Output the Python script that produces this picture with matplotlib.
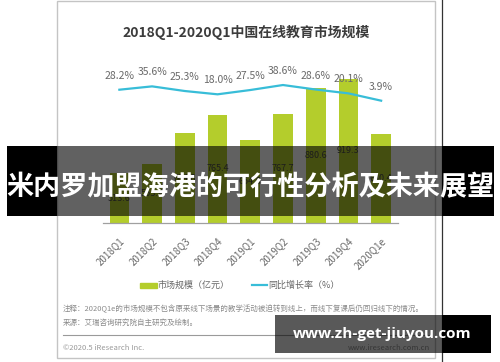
import matplotlib
matplotlib.use("Agg")
import matplotlib.pyplot as plt
from matplotlib.patches import Rectangle
from matplotlib.lines import Line2D

plt.rcParams['font.family'] = ['Noto Sans CJK SC', 'DejaVu Sans']

# ---- data ----
quarters = ["2018Q1", "2018Q2", "2018Q3", "2018Q4", "2019Q1",
            "2019Q2", "2019Q3", "2019Q4", "2020Q1e"]
market_size = [513.6, 553.9, 684.8, 765.4, 654.8, 767.7, 880.6, 919.3, 680.4]
growth_rate = [28.2, 35.6, 25.3, 18.0, 27.5, 38.6, 28.6, 20.1, 3.9]

title = "2018Q1-2020Q1中国在线教育市场规模"
legend_bar = "市场规模（亿元）"
legend_line = "同比增长率（%）"
note1 = "注释：2020Q1e的市场规模不包含原来线下场景的教学活动被迫转到线上，而线下复课后仍回归线下的情况。"
note2 = "来源：艾瑞咨询研究院自主研究及绘制。"
copyright_txt = "©2020.5 iResearch Inc."
site_txt = "www.iresearch.com.cn"
banner_txt = "米内罗加盟海港的可行性分析及未来展望"
watermark_txt = "www.zh-get-jiuyou.com"

BAR_C = "#b4cd2c"
LINE_C = "#38bdd8"
W, H = 500, 362

fig = plt.figure(figsize=(W / 100, H / 100), dpi=100)
fig.patch.set_facecolor("white")

def fx(x):
    return x / W

def fy(y):
    return 1 - y / H

# card border
fig.add_artist(Rectangle((fx(57), fy(358)), fx(435) - fx(57), fy(1) - fy(358),
                         transform=fig.transFigure, fill=False,
                         edgecolor="#c4c4c4", linewidth=1.0, zorder=1))
fig.add_artist(Line2D([fx(442), fx(442)], [0, 1], transform=fig.transFigure,
                      color="#333333", linewidth=0.9, zorder=1))

# title
fig.text(fx(246), fy(32), title, ha="center", va="center", fontsize=10,
         fontweight="bold", color="#3c3c3c")

# main axes
left, right, top, bottom = 103, 397.5, 60, 223
ax = fig.add_axes([fx(left), fy(bottom), fx(right) - fx(left), fy(top) - fy(bottom)])
ax.patch.set_alpha(0)
x = list(range(len(quarters)))
bars = ax.bar(x, market_size, width=0.6, color=BAR_C, zorder=2)
ax.set_xlim(-0.5, len(quarters) - 0.5)
ax.set_ylim(300, 1000)
for s in ["top", "right", "left"]:
    ax.spines[s].set_visible(False)
ax.spines["bottom"].set_color("#a0a0a0")
ax.spines["bottom"].set_linewidth(0.9)
ax.set_yticks([])
ax.set_xticks(x)
ax.set_xticklabels(quarters, rotation=45, ha="right", va="top",
                   rotation_mode="anchor", fontsize=7, color="#6a6a6a")
ax.tick_params(axis="x", length=0, pad=9)
for xi, v in zip(x, market_size):
    ax.text(xi, (300 + v) / 2, f"{v:.1f}", ha="center", va="center",
            fontsize=6.5, color="#4a4a4a", zorder=3)

ax2 = ax.twinx()
ax2.set_ylim(-267, 94)
ax2.plot(x, growth_rate, color=LINE_C, linewidth=1.6, zorder=4)
ax2.axis("off")
for xi, g in zip(x, growth_rate):
    ax2.annotate(f"{g:.1f}%", (xi, g), xytext=(0, 10), textcoords="offset points",
                 ha="center", va="center", fontsize=7.5, color="#6a6a6a")

# legend
fig.add_artist(Rectangle((fx(140), fy(288)), fx(157) - fx(140), fy(283) - fy(288),
                         transform=fig.transFigure, color=BAR_C))
fig.text(fx(158), fy(285), legend_bar, ha="left", va="center", fontsize=6.5, color="#666666")
fig.add_artist(Line2D([fx(252), fx(267)], [fy(285), fy(285)], transform=fig.transFigure,
                      color=LINE_C, linewidth=1.6))
fig.text(fx(268), fy(285), legend_line, ha="left", va="center", fontsize=6.5, color="#666666")

# notes
fig.text(fx(63), fy(309), note1, ha="left", va="center", fontsize=5.4, color="#8a8a8a")
fig.text(fx(63), fy(322.5), note2, ha="left", va="center", fontsize=5.4, color="#8a8a8a")
fig.add_artist(Line2D([fx(63), fx(430)], [fy(335), fy(335)], transform=fig.transFigure,
                      color="#9a9a9a", linewidth=0.8))
fig.text(fx(63), fy(348), copyright_txt, ha="left", va="center", fontsize=5.5, color="#9a9a9a")
fig.text(fx(430), fy(348), site_txt, ha="right", va="center", fontsize=5.5, color="#9a9a9a")

# banner overlay
def box(x0, x1, y0, y1, alpha):
    fig.add_artist(Rectangle((fx(x0), fy(y1)), fx(x1) - fx(x0), fy(y0) - fy(y1),
                             transform=fig.transFigure, facecolor="black",
                             edgecolor="none", alpha=alpha, zorder=10))

box(7, 57, 146, 216, 1.0)
box(57, 442, 146, 216, 0.62)
box(442, 494, 146, 216, 1.0)
fig.text(fx(250), fy(187), banner_txt, ha="center", va="center", fontsize=19.5,
         fontweight="bold", color="white", zorder=11)

# watermark
box(275, 442, 315, 353, 0.65)
box(442, 491, 315, 353, 1.0)
fig.text(fx(382), fy(334), watermark_txt, ha="center", va="center", fontsize=11,
         fontweight="bold", color="white", family=["Open Sans", "DejaVu Sans"], zorder=11)

fig.savefig("out.png", dpi=100)
